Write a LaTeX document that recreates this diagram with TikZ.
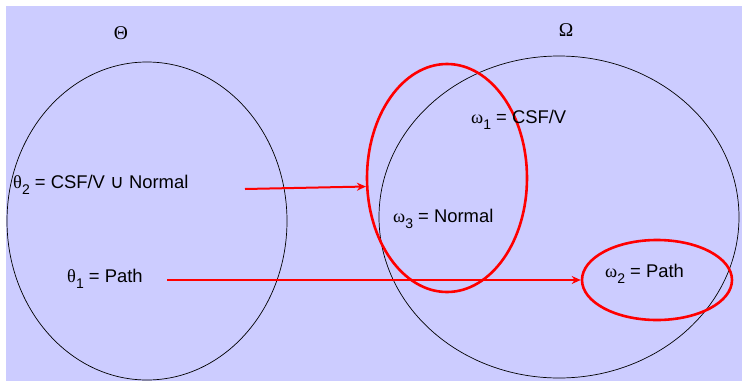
\documentclass[tikz,border=0pt]{standalone}
\usepackage{fontspec}
\setmainfont{Liberation Sans}
\newfontfamily\grk{Liberation Serif}
\newfontfamily\symf{DejaVu Sans}
\usetikzlibrary{shapes.geometric,arrows.meta}
\newcommand\glab[2]{{\grk #1}\raisebox{-6.5pt}{\fontsize{14}{14}\selectfont #2}}
\tikzset{
  setoval/.style={ellipse,draw=black,line width=0.7pt,inner sep=0pt},
  redoval/.style={ellipse,draw=red,line width=2.6pt,inner sep=0pt},
  lab/.style={anchor=base west,inner sep=0pt,font=\fontsize{18.4}{20}\selectfont},
  biglab/.style={anchor=base,inner sep=0pt,font=\grk\fontsize{19.5}{21}\selectfont},
  maparrow/.style={draw=red,line width=2pt,-{Stealth[length=9pt,width=8pt]}}
}
\begin{document}
\begin{tikzpicture}[x=1pt,y=-1pt]
\useasboundingbox (0,0) rectangle (742,381);
\fill[white] (0,0) rectangle (742,381);
\fill[fill={rgb,255:red,204;green,204;blue,255}] (6,6) rectangle (742,381);
% big sets
\node[setoval,minimum width=280pt,minimum height=318pt] (Th) at (147,221) {};
\node[setoval,minimum width=360pt,minimum height=322pt] (Om) at (559,217) {};
% set names
\node[biglab] (ThN) at (121,39) {Θ};
\node[biglab] (OmN) at (566,36) {Ω};
% red groups
\node[redoval,minimum width=160pt,minimum height=228pt] (r1) at (447,178) {};
\node[redoval,minimum width=150pt,minimum height=80pt] (r2) at (657,280) {};
% labels
\node[lab] (t2) at (13,188) {\glab{θ}{2} = CSF/V {\symf\fontsize{19}{19}\selectfont ∪} Normal};
\node[lab] (t1) at (67,282) {\glab{θ}{1} = Path};
\node[lab] (w1) at (471,123) {\glab{ω}{1} = CSF/V};
\node[lab] (w3) at (393,222) {\glab{ω}{3} = Normal};
\node[lab] (w2) at (605,277) {\glab{ω}{2} = Path};
% arrows
\coordinate (s2) at (245,189);
\coordinate (s1) at (167,280);
\draw[maparrow] (s2) -- (r1.186.5);
\draw[maparrow] (s1) -- (r2.west);
\end{tikzpicture}
\end{document}
